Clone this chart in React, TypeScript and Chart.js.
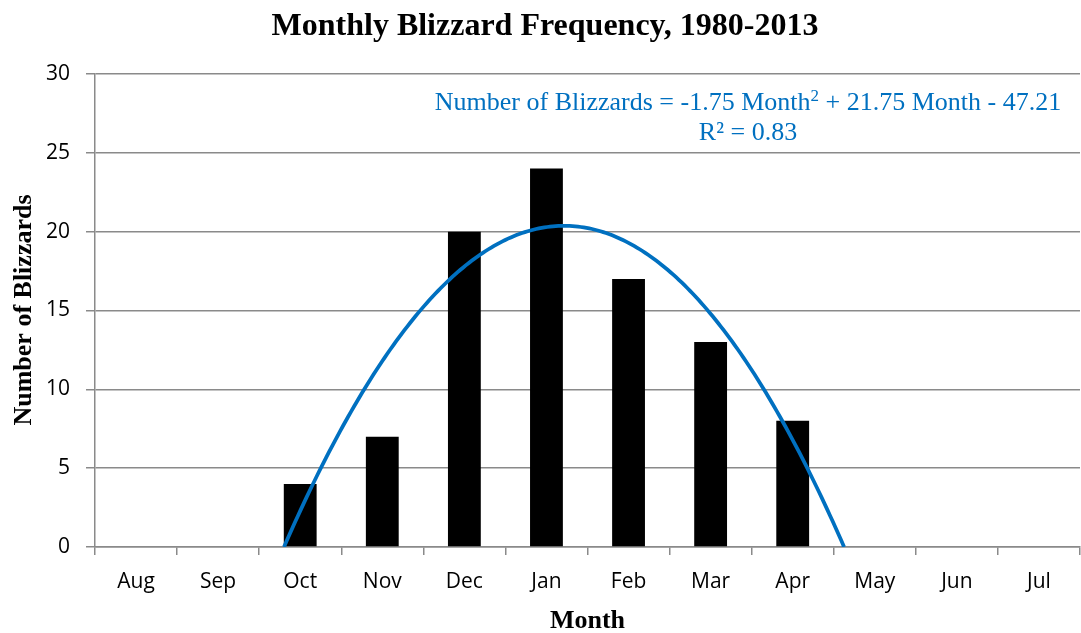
import React, { useEffect, useRef } from "react";
import { Chart, registerables } from "chart.js";

Chart.register(...registerables);

const months = ["Aug", "Sep", "Oct", "Nov", "Dec", "Jan", "Feb", "Mar", "Apr", "May", "Jun", "Jul"];
const blizzards = [0, 0, 4, 7, 20, 24, 17, 13, 8, 0, 0, 0];
const yTicks = [0, 5, 10, 15, 20, 25, 30];
// Trendline coefficients shown on the chart: a*x^2 + b*x + c (x = month index, Aug = 1)
const trendA = -1.75;
const trendB = 21.75;
const trendC = -47.21;
const equationText = ["Number of Blizzards = -1.75 Month", "2", " + 21.75 Month - 47.21"];
const r2Text = "R² = 0.83";
const titleText = "Monthly Blizzard Frequency, 1980-2013";
const yTitle = "Number of Blizzards";
const xTitle = "Month";

function trendPoints() {
  const disc = Math.sqrt(trendB * trendB - 4 * trendA * trendC);
  const r1 = (-trendB + disc) / (2 * trendA);
  const r2 = (-trendB - disc) / (2 * trendA);
  const lo = Math.min(r1, r2);
  const hi = Math.max(r1, r2);
  const pts: { x: number; y: number }[] = [];
  const n = 200;
  for (let i = 0; i <= n; i++) {
    const x = lo + ((hi - lo) * i) / n;
    pts.push({ x, y: Math.max(0, trendA * x * x + trendB * x + trendC) });
  }
  return pts;
}

const textPlugin = {
  id: "textPlugin",
  afterDraw(chart: any) {
    const ctx = chart.ctx;
    const area = chart.chartArea;
    ctx.save();
    ctx.fillStyle = "#000";
    ctx.textAlign = "center";
    ctx.textBaseline = "alphabetic";
    ctx.font = "bold 32px 'Liberation Serif', 'Times New Roman', serif";
    ctx.fillText(titleText, 545, 35);

    ctx.font = "bold 26px 'Liberation Serif', 'Times New Roman', serif";
    ctx.fillText(xTitle, (area.left + area.right) / 2, 628);

    ctx.save();
    ctx.translate(31, 310);
    ctx.rotate(-Math.PI / 2);
    ctx.fillText(yTitle, 0, 0);
    ctx.restore();

    // Equation
    ctx.fillStyle = "#0070C0";
    const mainFont = "26px 'Liberation Serif', 'Times New Roman', serif";
    const supFont = "17px 'Liberation Serif', 'Times New Roman', serif";
    ctx.font = mainFont;
    const w1 = ctx.measureText(equationText[0]).width;
    const w3 = ctx.measureText(equationText[2]).width;
    ctx.font = supFont;
    const w2 = ctx.measureText(equationText[1]).width;
    const total = w1 + w2 + w3;
    const cx = 748;
    let x = cx - total / 2;
    const baseY = 110;
    ctx.textAlign = "left";
    ctx.font = mainFont;
    ctx.fillText(equationText[0], x, baseY);
    x += w1;
    ctx.font = supFont;
    ctx.fillText(equationText[1], x, baseY - 9);
    x += w2;
    ctx.font = mainFont;
    ctx.fillText(equationText[2], x, baseY);
    ctx.textAlign = "center";
    ctx.fillText(r2Text, cx, 140);
    ctx.restore();
  },
};

export default function App() {
  const ref = useRef<HTMLCanvasElement | null>(null);
  useEffect(() => {
    if (!ref.current) return;
    const gridColor = "#8a8a8a";
    const chart = new Chart(ref.current, {
      type: "bar",
      data: {
        labels: months,
        datasets: [
          {
            type: "bar",
            data: blizzards,
            backgroundColor: "#000000",
            borderWidth: 0,
            barPercentage: 0.4,
            categoryPercentage: 1,
            grouped: false,
            xAxisID: "x",
            yAxisID: "y",
            order: 2,
          } as any,
          {
            type: "line",
            data: trendPoints(),
            borderColor: "#0070C0",
            borderWidth: 3.75,
            pointRadius: 0,
            fill: false,
            tension: 0,
            xAxisID: "xLin",
            yAxisID: "y",
            order: 1,
          } as any,
        ],
      },
      options: {
        animation: false,
        responsive: false,
        layout: { padding: { top: 74, left: 0, right: 1, bottom: 0 } },
        plugins: {
          legend: { display: false },
          tooltip: { enabled: false },
          title: { display: false },
        },
        scales: {
          x: {
            type: "category",
            offset: true,
            grid: {
              display: true,
              offset: true,
              drawOnChartArea: false,
              drawTicks: true,
              tickLength: 8,
              color: gridColor,
              lineWidth: 1.5,
            },
            border: { display: true, color: gridColor, width: 1.5 },
            ticks: {
              color: "#000",
              padding: 14,
              font: { family: "'Open Sans', sans-serif", size: 21 },
            },
            afterFit(scale: any) {
              scale.height = 86;
            },
          },
          xLin: {
            type: "linear",
            display: false,
            offset: false,
            min: 0.5,
            max: 12.5,
          },
          y: {
            min: 0,
            max: 30,
            afterBuildTicks(scale: any) {
              scale.ticks = yTicks.map((v) => ({ value: v }));
            },
            grid: {
              color: gridColor,
              lineWidth: 1.5,
              tickLength: 9,
            },
            border: { display: true, color: gridColor, width: 1.5 },
            ticks: {
              color: "#000",
              padding: 16,
              font: { family: "'Open Sans', sans-serif", size: 21 },
            },
            afterFit(scale: any) {
              scale.width = 95;
            },
          },
        },
      },
      plugins: [textPlugin],
    });
    return () => chart.destroy();
  }, []);
  return (
    <div style={{ position: "fixed", left: 0, top: 0, width: 1081, height: 633, background: "#fff" }}>
      <canvas ref={ref} width={1081} height={633} style={{ width: 1081, height: 633, display: "block" }} />
    </div>
  );
}
